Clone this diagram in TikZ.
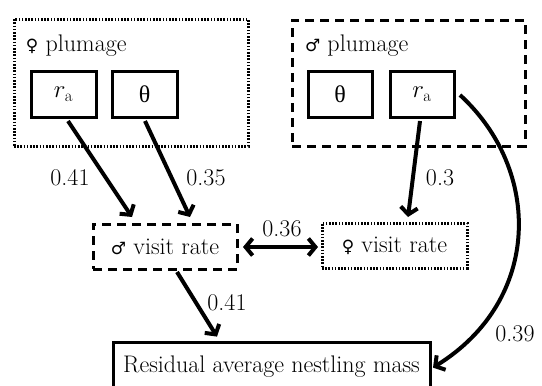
\documentclass[tikz,border=0pt]{standalone}
\usepackage{fontspec}
\newfontfamily\symfont{DejaVu Sans}
\newfontfamily\grkfont{Liberation Serif}
\usetikzlibrary{arrows.meta,calc}
\newcommand{\fem}{{\symfont\fontsize{17}{17}\selectfont ♀}}
\newcommand{\mal}{{\symfont\fontsize{17}{17}\selectfont ♂}}
\newcommand{\thet}{{\grkfont\fontsize{24}{24}\selectfont θ}}
\begin{document}
\begin{tikzpicture}[x=1pt,y=-1pt,
  every node/.style={font=\fontsize{24}{28}\selectfont, inner sep=0pt, outer sep=0pt},
  varbox/.style={draw, line width=3pt, minimum width=65pt, minimum height=46pt},
  dashbox/.style={draw, line width=3pt, dash pattern=on 9pt off 6pt},
  dotbox/.style={draw, line width=3pt, dash pattern=on 1.6pt off 1.6pt},
  arr/.style={line width=4pt, -{Straight Barb[length=7pt,width=17pt]}},
  darr/.style={line width=4pt, {Straight Barb[length=7pt,width=17pt]}-{Straight Barb[length=7pt,width=17pt]}},
  lbl/.style={}
]
\useasboundingbox (0,0) rectangle (542,386);
% group boxes
\node[dotbox, minimum width=234pt, minimum height=127pt] (fplum) at (131,82.5) {};
\node[dashbox, minimum width=233pt, minimum height=126pt] (mplum) at (408.5,83) {};
\node[anchor=west] (fplumlbl) at (26,46) {\fem\ plumage};
\node[anchor=west] (mplumlbl) at (305,46) {\mal\ plumage};
% variable boxes
\node[varbox] (fra) at (63.5,94) {$r_{\mathrm{a}}$};
\node[varbox] (fth) at (144.5,94) {\thet};
\node[varbox, minimum width=64pt] (mth) at (340,94) {\thet};
\node[varbox, minimum width=64pt] (mra) at (422,94) {$r_{\mathrm{a}}$};
% visit rates
\node[dashbox, minimum width=144pt, minimum height=45pt] (mvr) at (165,246.5) {\mal\ visit rate};
\node[dotbox, minimum width=145pt, minimum height=45pt] (fvr) at (394.5,245.5) {\fem\ visit rate};
% outcome
\node[draw, line width=3pt, minimum width=317pt, minimum height=48pt] (res) at (271.5,366.6) {Residual average nestling mass};
% arrows
\draw[arr] ($(fra.south)+(4.5,4)$) -- ($(mvr.north)+(-33,-7)$);
\draw[arr] ($(fth.south)+(0.5,4)$) -- ($(mvr.north)+(25,-7)$);
\draw[arr] ($(mra.south)+(-2,4)$) -- ($(fvr.north)+(13.5,-6)$);
\draw[arr] ($(mvr.south)+(12,3)$) -- ($(res.north)+(-54.5,-6)$);
\draw[darr] ($(mvr.east)+(6,0.5)$) -- ($(fvr.west)+(-4,1.5)$);
\draw[arr] ($(mra.east)+(6,1)$) .. controls (542,170) and (542,300) .. ($(res.east)+(3,1)$);
% labels
\node[lbl] (l1) at (70,178) {0.41};
\node[lbl] (l2) at (206,178) {0.35};
\node[lbl] (l3) at (440,178) {0.3};
\node[lbl] (l4) at (282,229) {0.36};
\node[lbl] (l5) at (227,303) {0.41};
\node[lbl] (l6) at (515,334) {0.39};
\end{tikzpicture}
\end{document}
